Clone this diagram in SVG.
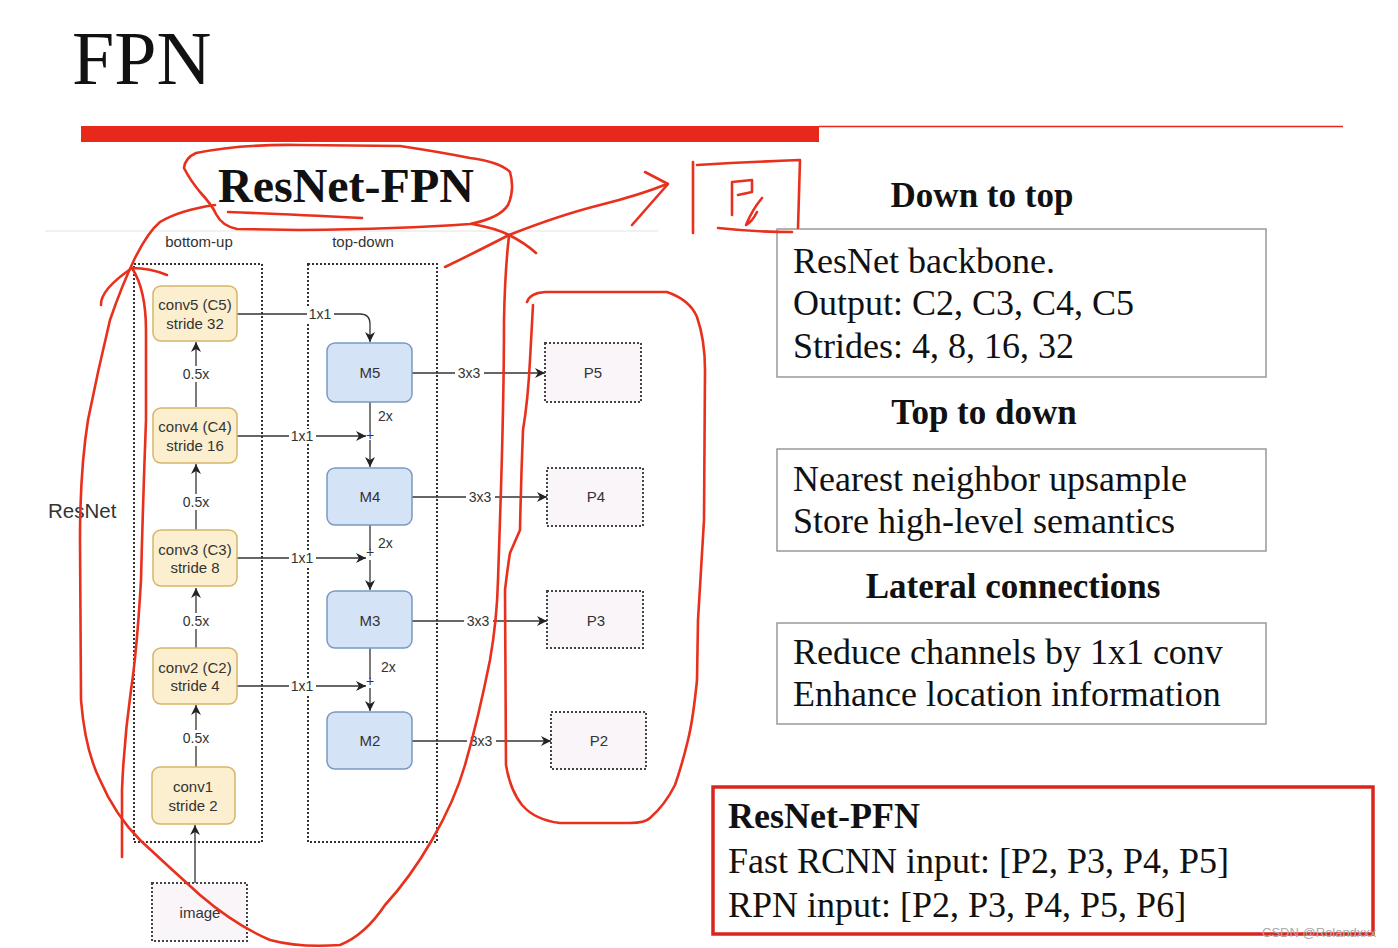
<svg xmlns="http://www.w3.org/2000/svg" width="1398" height="948" viewBox="0 0 1398 948">
<defs>
<marker id="ah" viewBox="0 0 10 10" refX="10" refY="5" markerWidth="11" markerHeight="10" orient="auto" markerUnits="userSpaceOnUse"><path d="M0,0 L10,5 L0,10 L3,5 z" fill="#222"/></marker>
<style>
.serif{font-family:"Liberation Serif","Times New Roman",serif;fill:#111}
.b{font-weight:bold}
.sans{font-family:"Liberation Sans",Arial,sans-serif;fill:#333}
.conv{fill:#fcefcf;stroke:#d5b56a;stroke-width:1.5}
.m{fill:#d5e3f7;stroke:#7b98c4;stroke-width:1.5}
.p{fill:#f9f5f9;stroke:#444;stroke-width:2;stroke-dasharray:2 2}
.grp{fill:none;stroke:#333;stroke-width:2;stroke-dasharray:2 2}
.ln{stroke:#333;stroke-width:1.3;fill:none}
.lbl{font-size:14px;text-anchor:middle}
.nt{font-size:15px;text-anchor:middle}
.bg{fill:#fff}
.red{fill:none;stroke:#e8301c;stroke-width:2.6;stroke-linecap:round;stroke-linejoin:round}
.tbox{fill:#fff;stroke:#999;stroke-width:1.5}
.big{font-size:36px}
.hd{font-size:35px;font-weight:bold;text-anchor:middle}
</style>
</defs>
<rect width="1398" height="948" fill="#fff"/>

<g id="title">
<text class="serif" x="72" y="84" font-size="76">FPN</text>
<rect x="81" y="126" width="738" height="16" fill="#e8281a"/>
<line x1="819" y1="126.5" x2="1343" y2="126.5" stroke="#e8281a" stroke-width="1.3"/>
<text class="serif b" x="218" y="202" font-size="48">ResNet-FPN</text>
<line x1="45" y1="231" x2="658" y2="231" stroke="#e4e4e4" stroke-width="1.2"/>
</g>

<g id="groups">
<text class="sans" x="199" y="247" font-size="15" text-anchor="middle">bottom-up</text>
<text class="sans" x="363" y="247" font-size="15" text-anchor="middle">top-down</text>
<rect class="grp" x="134" y="264" width="128" height="578"/>
<rect class="grp" x="308" y="264" width="129" height="578"/>
<text class="sans" x="48" y="518" font-size="20.5">ResNet</text>
</g>

<g id="connectors">
<line class="ln" x1="195" y1="883" x2="195" y2="825" marker-end="url(#ah)"/>
<line class="ln" x1="196" y1="767" x2="196" y2="705" marker-end="url(#ah)"/>
<line class="ln" x1="196" y1="648" x2="196" y2="588" marker-end="url(#ah)"/>
<line class="ln" x1="196" y1="530" x2="196" y2="464" marker-end="url(#ah)"/>
<line class="ln" x1="196" y1="407" x2="196" y2="342" marker-end="url(#ah)"/>
<path class="ln" d="M237,314 H360 Q370,314 370,324 V342" marker-end="url(#ah)"/>
<line class="ln" x1="237" y1="436" x2="366" y2="436" marker-end="url(#ah)"/>
<line class="ln" x1="237" y1="558" x2="366" y2="558" marker-end="url(#ah)"/>
<line class="ln" x1="237" y1="686" x2="366" y2="686" marker-end="url(#ah)"/>
<line class="ln" x1="370" y1="402" x2="370" y2="432"/>
<line class="ln" x1="370" y1="440" x2="370" y2="467" marker-end="url(#ah)"/>
<line class="ln" x1="370" y1="525" x2="370" y2="550"/>
<line class="ln" x1="370" y1="560" x2="370" y2="590" marker-end="url(#ah)"/>
<line class="ln" x1="370" y1="648" x2="370" y2="679"/>
<line class="ln" x1="370" y1="688" x2="370" y2="711" marker-end="url(#ah)"/>
<line class="ln" x1="412" y1="373" x2="545" y2="373" marker-end="url(#ah)"/>
<line class="ln" x1="412" y1="497" x2="547" y2="497" marker-end="url(#ah)"/>
<line class="ln" x1="412" y1="621" x2="547" y2="621" marker-end="url(#ah)"/>
<line class="ln" x1="412" y1="741" x2="551" y2="741" marker-end="url(#ah)"/>
<rect class="bg" x="180" y="366" width="32" height="16"/><text class="sans lbl" x="196" y="379">0.5x</text>
<rect class="bg" x="180" y="494" width="32" height="16"/><text class="sans lbl" x="196" y="507">0.5x</text>
<rect class="bg" x="180" y="613" width="32" height="16"/><text class="sans lbl" x="196" y="626">0.5x</text>
<rect class="bg" x="180" y="730" width="32" height="16"/><text class="sans lbl" x="196" y="743">0.5x</text>
<rect class="bg" x="307" y="307" width="27" height="15"/><text class="sans lbl" x="320" y="319">1x1</text>
<rect class="bg" x="289" y="429" width="27" height="15"/><text class="sans lbl" x="302" y="441">1x1</text>
<rect class="bg" x="289" y="551" width="27" height="15"/><text class="sans lbl" x="302" y="563">1x1</text>
<rect class="bg" x="289" y="679" width="27" height="15"/><text class="sans lbl" x="302" y="691">1x1</text>
<text class="sans lbl" x="370" y="440" font-size="11">+</text>
<text class="sans lbl" x="370" y="557" font-size="11">+</text>
<text class="sans lbl" x="370" y="686" font-size="11">+</text>
<text class="sans" x="378" y="421" font-size="14">2x</text>
<text class="sans" x="378" y="548" font-size="14">2x</text>
<text class="sans" x="381" y="672" font-size="14">2x</text>
<rect class="bg" x="455" y="366" width="29" height="15"/><text class="sans lbl" x="469" y="378">3x3</text>
<rect class="bg" x="466" y="490" width="29" height="15"/><text class="sans lbl" x="480" y="502">3x3</text>
<rect class="bg" x="464" y="614" width="29" height="15"/><text class="sans lbl" x="478" y="626">3x3</text>
<rect class="bg" x="467" y="734" width="29" height="15"/><text class="sans lbl" x="481" y="746">3x3</text>
</g>

<g id="conv5"><rect class="conv" x="153" y="286" width="84" height="55" rx="8"/><text class="sans nt" x="195" y="310">conv5 (C5)</text><text class="sans nt" x="195" y="329">stride 32</text></g>
<g id="conv4"><rect class="conv" x="153" y="408" width="84" height="55" rx="8"/><text class="sans nt" x="195" y="432">conv4 (C4)</text><text class="sans nt" x="195" y="451">stride 16</text></g>
<g id="conv3"><rect class="conv" x="153" y="530" width="84" height="56" rx="8"/><text class="sans nt" x="195" y="555">conv3 (C3)</text><text class="sans nt" x="195" y="573">stride 8</text></g>
<g id="conv2"><rect class="conv" x="153" y="648" width="84" height="56" rx="8"/><text class="sans nt" x="195" y="673">conv2 (C2)</text><text class="sans nt" x="195" y="691">stride 4</text></g>
<g id="conv1"><rect class="conv" x="152" y="767" width="83" height="57" rx="8"/><text class="sans nt" x="193" y="792">conv1</text><text class="sans nt" x="193" y="811">stride 2</text></g>
<g id="image"><rect class="p" x="152" y="883" width="95" height="58"/><text class="sans nt" x="200" y="918">image</text></g>

<g id="M5"><rect class="m" x="327" y="343" width="85" height="59" rx="8"/><text class="sans nt" x="370" y="378">M5</text></g>
<g id="M4"><rect class="m" x="327" y="468" width="85" height="57" rx="8"/><text class="sans nt" x="370" y="502">M4</text></g>
<g id="M3"><rect class="m" x="327" y="591" width="85" height="57" rx="8"/><text class="sans nt" x="370" y="626">M3</text></g>
<g id="M2"><rect class="m" x="327" y="712" width="85" height="57" rx="8"/><text class="sans nt" x="370" y="746">M2</text></g>

<g id="P5"><rect class="p" x="545" y="343" width="96" height="59"/><text class="sans nt" x="593" y="378">P5</text></g>
<g id="P4"><rect class="p" x="547" y="468" width="96" height="58"/><text class="sans nt" x="596" y="502">P4</text></g>
<g id="P3"><rect class="p" x="547" y="591" width="96" height="57"/><text class="sans nt" x="596" y="626">P3</text></g>
<g id="P2"><rect class="p" x="551" y="712" width="95" height="57"/><text class="sans nt" x="599" y="746">P2</text></g>

<g id="down-to-top">
<text class="serif hd" x="982" y="207">Down to top</text>
<rect class="tbox" x="777" y="229" width="489" height="148"/>
<text class="serif big" x="793" y="273">ResNet backbone.</text>
<text class="serif big" x="793" y="315">Output: C2, C3, C4, C5</text>
<text class="serif big" x="793" y="358">Strides: 4, 8, 16, 32</text>
</g>
<g id="top-to-down">
<text class="serif hd" x="984" y="424">Top to down</text>
<rect class="tbox" x="777" y="449" width="489" height="102"/>
<text class="serif big" x="793" y="491">Nearest neighbor upsample</text>
<text class="serif big" x="793" y="533">Store high-level semantics</text>
</g>
<g id="lateral">
<text class="serif hd" x="1013" y="598">Lateral connections</text>
<rect class="tbox" x="777" y="623" width="489" height="101"/>
<text class="serif big" x="793" y="664">Reduce channels by 1x1 conv</text>
<text class="serif big" x="793" y="706">Enhance location information</text>
</g>
<g id="summary">
<rect x="713" y="787" width="660" height="147" fill="#fff" stroke="#d9261c" stroke-width="3.5"/>
<text class="serif big b" x="728" y="828">ResNet-PFN</text>
<text class="serif big" x="728" y="873">Fast RCNN input: [P2, P3, P4, P5]</text>
<text class="serif big" x="728" y="917">RPN input: [P2, P3, P4, P5, P6]</text>
</g>

<g id="annotations">
<path class="red" d="M196,153 Q185,158 184,168 Q190,180 200,192 Q212,205 216,214 Q222,226 237,229 L300,230 Q400,229 470,224 Q500,218 508,205 Q515,190 510,172 Q500,162 470,158 Q440,152 400,146 L300,145 Q240,144 196,153"/>
<path class="red" d="M228,212 Q280,214 362,218"/>
<path class="red" d="M215,205 Q180,210 160,222 Q148,232 135,258 Q122,285 110,320 Q98,370 88,420 Q80,470 80,540 L81,700 Q85,750 100,780 Q115,815 140,840 Q170,868 200,895 Q235,925 270,940 Q300,948 340,945 Q365,935 385,905 Q410,878 432,840 Q455,800 465,765 Q478,720 490,660 Q497,620 498,580 L500,520 Q504,400 504,320 Q505,270 509,236"/>
<path class="red" d="M445,267 Q470,255 509,235 Q560,215 600,205 Q640,195 667,184"/>
<path class="red" d="M645,172 L668,184 L632,225"/>
<path class="red" d="M509,235 Q525,243 536,253"/>
<path class="red" d="M472,224 Q495,228 509,235"/>
<path class="red" d="M167,275 Q150,268 132,268 Q100,290 101,305"/>
<path class="red" d="M132,268 Q146,290 146,330 L146,420 Q143,500 141,580 Q137,650 131,690 Q124,740 122,790 L122,857"/>
<path class="red" d="M693,162 L693,233"/>
<path class="red" d="M697,165 Q750,162 800,160 L798,228"/>
<path class="red" d="M718,228 Q755,232 792,232"/>
<path class="red" d="M732,215 L732,182 L752,180 L752,192 L738,195"/>
<path class="red" d="M762,198 Q752,210 746,225 Q752,222 757,212"/>
<path class="red" d="M527,302 Q530,293 545,292 L667,292 Q690,300 697,317 Q705,340 705,370 L704,520 L698,620 L697,680 Q693,720 688,740 Q682,765 675,785 Q665,805 650,818 Q645,823 630,823 L560,823 Q535,820 522,805 Q510,790 506,765 L505,590 Q508,565 510,553 L520,530 Q521,480 523,430 Q528,400 530,360 L533,305"/>
</g>

<text x="1262" y="937" font-family="Liberation Sans, Arial, sans-serif" font-size="13" fill="#aaa">CSDN @Rolandxxx</text>
</svg>
